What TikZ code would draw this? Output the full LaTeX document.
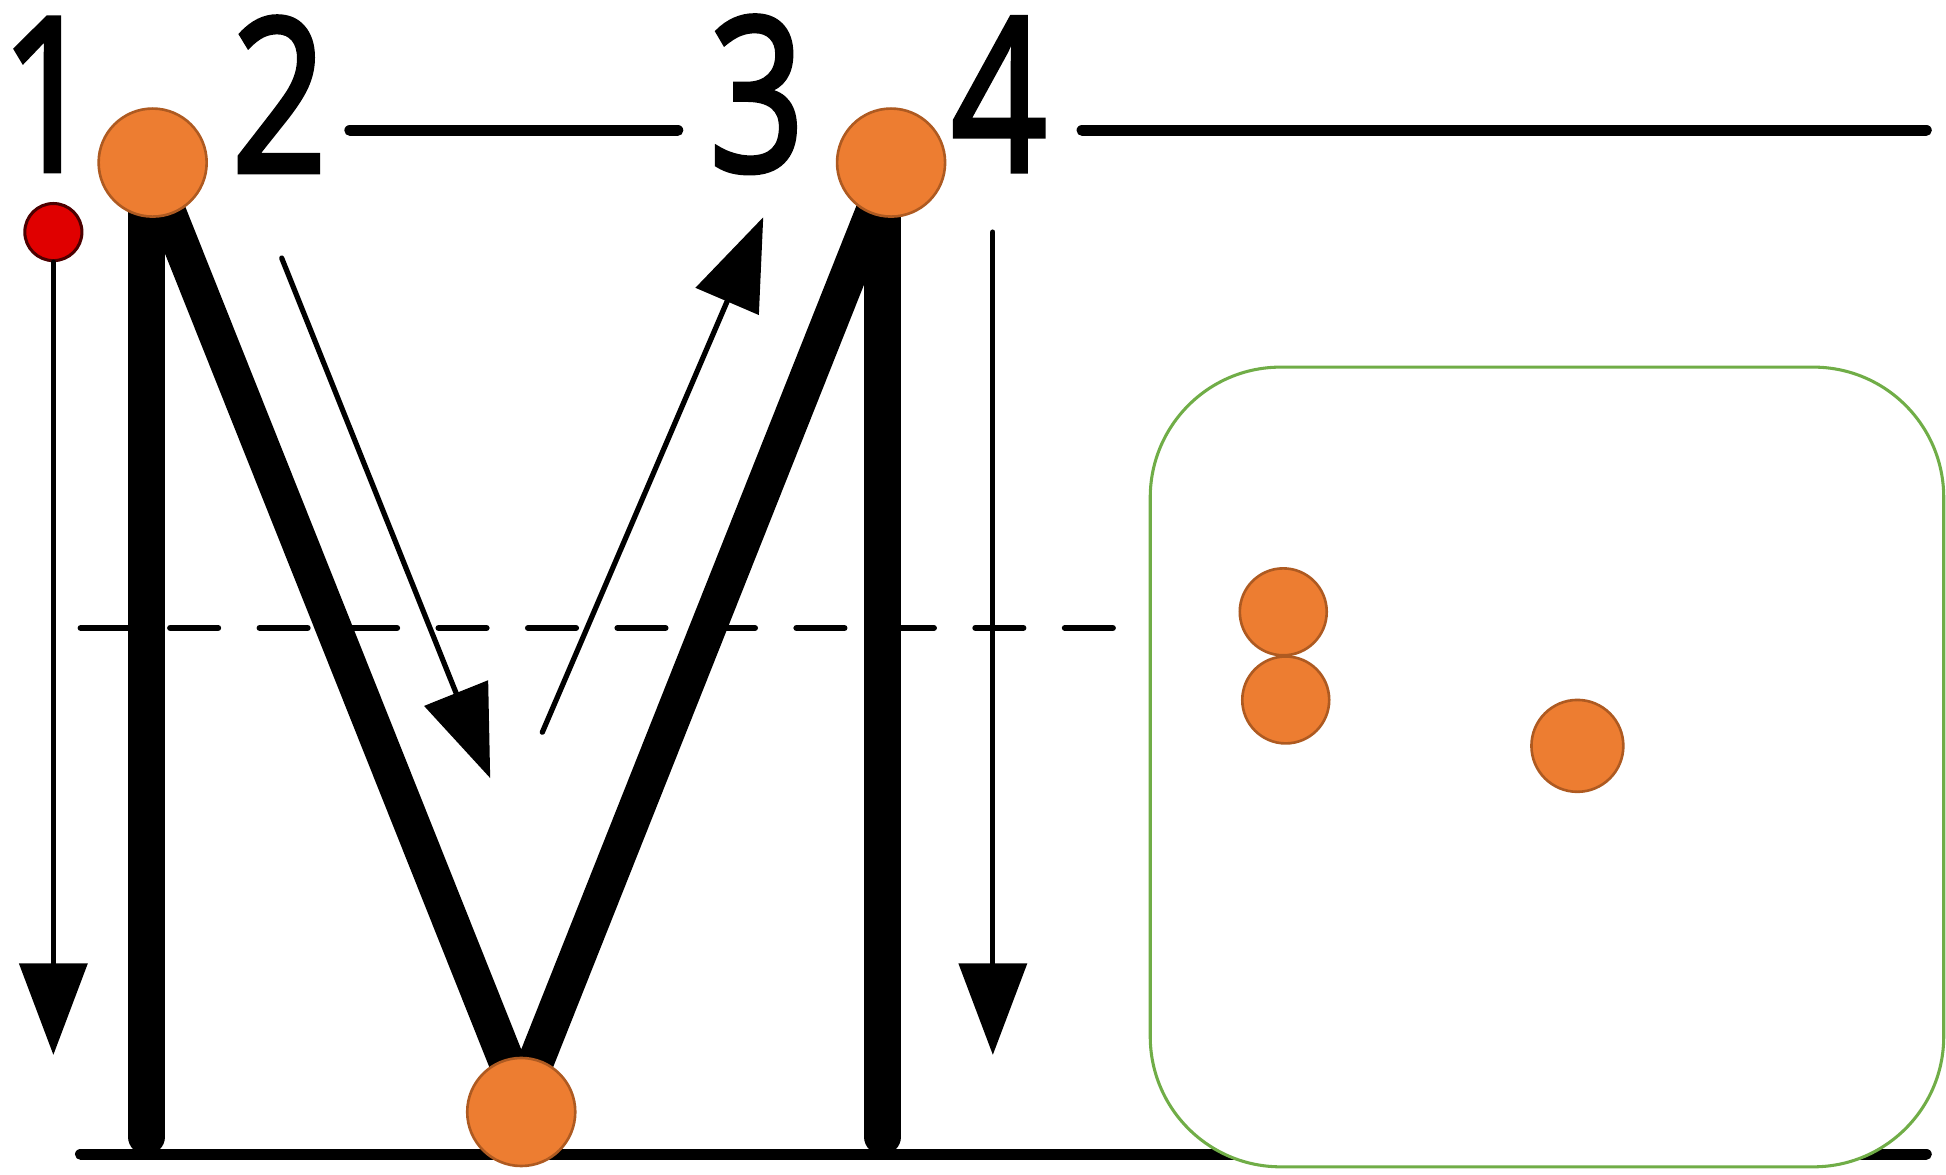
\documentclass[tikz,border=0pt]{standalone}
\usepackage{fontspec}
\setmainfont{Open Sans}
\newfontfamily\digitfont{Open Sans}[FakeBold=2.5]
\usetikzlibrary{arrows.meta}
\definecolor{orfill}{HTML}{ED7D31}
\definecolor{ordraw}{HTML}{AE5A21}
\definecolor{boxgreen}{HTML}{70AD47}
\definecolor{reddot}{HTML}{E00000}
\begin{document}
\begin{tikzpicture}[x=0.01cm,y=-0.01cm,
  digit/.style={inner sep=0pt,font=\fontsize{49}{58}\digitfont},
  guide/.style={line width=2.6pt,line cap=round},
  stroke/.style={line width=8.3pt},
  thinarrow/.style={line width=1.2pt,line cap=round,-{Triangle[length=21pt,width=15.5pt]}},
  dot/.style={circle,draw=ordraw,fill=orfill,line width=0.6pt,inner sep=0pt,minimum size=#1},
  dot/.default=25mm]
\useasboundingbox (0,0) rectangle (1568,946);
% guide lines
\draw[guide] (65,930) -- (1552,930);
\draw[line width=1.4pt,line cap=round,dash pattern=on 11pt off 9.5pt] (65,506) -- (935,506);
% green box
\node[draw=boxgreen,fill=white,line width=0.7pt,rounded corners=1.05cm,
  minimum width=6.39cm,minimum height=6.44cm,inner sep=0pt] (box) at (1246.5,618) {};
% digits
\node[digit] (d1) at (39,76) {\scalebox{0.78}[1]{1}};
\node[digit] (d2) at (225,76) {\scalebox{0.78}[1]{2}};
\node[digit] (d3) at (610,76) {\scalebox{0.78}[1]{3}};
\node[digit] (d4) at (805,76) {\scalebox{0.78}[1]{4}};
\coordinate (l2a) at (282,105); \coordinate (l2b) at (546,105);
\coordinate (l4a) at (872,105); \coordinate (l4b) at (1552,105);
\draw[guide] (l2a) -- (l2b);
\draw[guide] (l4a) -- (l4b);
% M letter
\coordinate (ltop) at (118,150);
\coordinate (lbot) at (118,916);
\coordinate (rtop) at (711,150);
\coordinate (rbot) at (711,916);
\coordinate (dtl) at (123,140);
\coordinate (dtr) at (716,140);
\coordinate (vb) at (420,885);
\draw[stroke,line cap=round] (ltop) -- (lbot);
\draw[stroke,line cap=round] (rtop) -- (rbot);
\draw[stroke] (dtl) -- (vb) -- (dtr);
% arrows
\node[circle,draw=black!70!red,fill=reddot,line width=0.7pt,minimum size=0.46cm,inner sep=0pt] (red) at (43,187) {};
\coordinate (t1) at (43,850);
\draw[thinarrow] (red.south) -- (t1);
\coordinate (s2) at (227,208); \coordinate (t2) at (395,627);
\draw[thinarrow] (s2) -- (t2);
\coordinate (s3) at (437,590); \coordinate (t3) at (615,175);
\draw[thinarrow] (s3) -- (t3);
\coordinate (s4) at (800,187); \coordinate (t4) at (800,850);
\draw[thinarrow] (s4) -- (t4);
% orange dots
\node[dot=0.87cm] (c1) at (123,131) {};
\node[dot=0.87cm] (c3) at (718,131) {};
\node[dot=0.87cm] (c2) at (420,896) {};
\node[dot=0.70cm] (b1) at (1034,493) {};
\node[dot=0.70cm] (b2) at (1036,564) {};
\node[dot=0.74cm] (b3) at (1271,601) {};
\end{tikzpicture}
\end{document}
